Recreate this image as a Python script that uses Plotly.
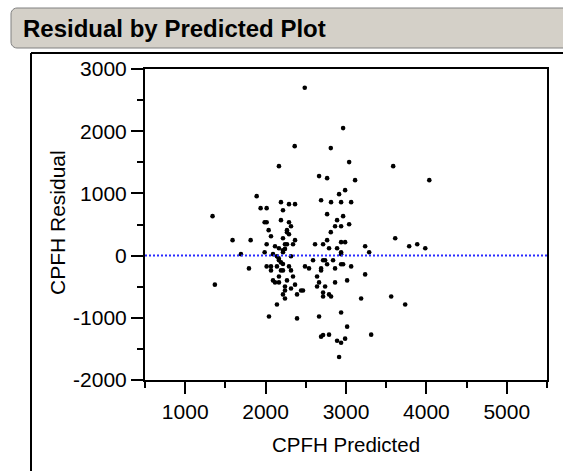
import math
import plotly.graph_objects as go

# ---- data ----
predicted = [
    2487, 2964, 2362, 2811, 2166, 3039, 3587, 2665, 2765, 3113,
    4036, 1889, 2989, 2914, 2690, 2814, 2939, 3064, 2191, 2291,
    2366, 1938, 2013, 2216, 1340, 2765, 2964, 2191, 1988, 2013,
    2291, 2889, 2316, 2864, 2939, 3039, 2038, 2266, 2266, 2811,
    2067, 2291, 2216, 3612, 1589, 1814, 2366, 2765, 2939, 2989,
    2013, 2241, 2266, 2341, 2615, 2715, 3886, 2117, 3238, 3786,
    2166, 2241, 2789, 2889, 3986, 2216, 2216, 1988, 2939, 3288,
    1693, 2092, 2939, 2316, 2141, 2163, 2166, 2191, 2216, 2590,
    2715, 2740, 2839, 2765, 2939, 2964, 3064, 2490, 2540, 2690,
    2690, 2864, 1793, 2013, 2067, 2141, 2291, 2067, 2191, 2216,
    2316, 3238, 2640, 2166, 2341, 2092, 2117, 2166, 2266, 2665,
    2864, 3014, 1369, 2366, 2241, 2316, 2640, 2740, 2241, 2441,
    2465, 2715, 2715, 2789, 2814, 2216, 2391, 2241, 3188, 3562,
    2141, 3736, 2939, 2042, 2391, 2665, 3014, 2690, 2715, 2789,
    3313, 2889, 2939, 2989, 2914,
]
residual = [
    2698, 2050, 1760, 1728, 1438, 1503, 1438, 1278, 1245, 1213,
    1213, 956, 1052, 988, 891, 859, 859, 859, 859, 827,
    827, 763, 763, 730, 634, 666, 634, 570, 537, 537,
    537, 570, 473, 473, 473, 505, 409, 409, 377, 377,
    312, 344, 280, 280, 248, 248, 248, 248, 216, 216,
    183, 183, 183, 183, 183, 183, 183, 151, 151, 151,
    119, 108, 119, 119, 119, 87, 55, 55, 55, 55,
    23, 23, 23, -10, -10, -42, -74, -109, -134, -74,
    -74, -74, -74, -138, -138, -138, -174, -174, -206, -206,
    -238, -206, -206, -174, -174, -174, -174, -238, -238, -238,
    -238, -302, -335, -335, -335, -399, -431, -431, -399, -431,
    -431, -399, -467, -467, -496, -528, -496, -496, -560, -560,
    -560, -595, -658, -624, -658, -624, -624, -689, -689, -658,
    -787, -787, -914, -978, -1010, -978, -1142, -1303, -1276, -1271,
    -1271, -1368, -1400, -1335, -1630,
]
x_ticks = [1000, 2000, 3000, 4000, 5000]
x_tick_labels = ["1000", "2000", "3000", "4000", "5000"]
y_ticks = [-2000, -1000, 0, 1000, 2000, 3000]
y_tick_labels = ["-2000", "-1000", "0", "1000", "2000", "3000"]
x_range = [500, 5500]
y_range = [-2000, 3000]

title_text = "Residual by Predicted Plot"
x_title = "CPFH Predicted"
y_title = "CPFH Residual"

# ---- layout geometry (pixels) ----
W, H = 563, 471
L, R, T, B = 145, 547, 69, 380
PW, PH = R - L, B - T


def px(x):
    return (x - L) / PW


def py(y):
    return (B - y) / PH


FONT = "Liberation Sans, Arial, sans-serif"

fig = go.Figure()
fig.add_trace(go.Scatter(
    x=predicted, y=residual, mode="markers",
    marker=dict(color="black", size=4.6, line=dict(width=0)),
    hoverinfo="skip", showlegend=False,
))

shapes = []
# title bar (rounded on the left)
r = 6
x0, y0, x1, y1 = 11, 8, 600, 48
angles = [k * math.pi / 12 for k in range(7)]
path_pts = [(x1, y0)]
path_pts += [(x0 + r - r * math.sin(t), y0 + r - r * math.cos(t)) for t in angles]
path_pts += [(x0 + r - r * math.cos(t), y1 - r + r * math.sin(t)) for t in angles]
path_pts += [(x1, y1)]
path = "M " + " L ".join(f"{px(a):.5f},{py(b):.5f}" for a, b in path_pts) + " Z"
shapes.append(dict(type="path", xref="paper", yref="paper", path=path,
                   fillcolor="#d4d0c8", line=dict(color="#808080", width=1), layer="below"))
# outer report frame
shapes.append(dict(type="line", xref="paper", yref="paper",
                   x0=px(31), x1=px(600), y0=py(53), y1=py(53),
                   line=dict(color="black", width=2)))
shapes.append(dict(type="line", xref="paper", yref="paper",
                   x0=px(31), x1=px(31), y0=py(53), y1=py(520),
                   line=dict(color="black", width=2)))
# zero reference line
shapes.append(dict(type="line", xref="paper", yref="y",
                   x0=0, x1=1, y0=0, y1=0,
                   line=dict(color="#2a2aff", width=2, dash="2px,2px")))

annotations = [
    dict(text=f"<b>{title_text}</b>", xref="paper", yref="paper",
         x=px(21), y=py(29), xanchor="left", yanchor="middle",
         showarrow=False, font=dict(family=FONT, size=24, color="black")),
    dict(text=x_title, xref="paper", yref="paper",
         x=px(346), y=py(444), xanchor="center", yanchor="middle",
         showarrow=False, font=dict(family=FONT, size=20.5, color="black")),
    dict(text=y_title, xref="paper", yref="paper",
         x=px(57), y=py(223), xanchor="center", yanchor="middle", textangle=-90,
         showarrow=False, font=dict(family=FONT, size=21, color="black")),
]

axis_common = dict(
    showgrid=False, zeroline=False, showline=True, linecolor="black", linewidth=2,
    mirror=True, ticks="outside", ticklen=12, tickwidth=2, tickcolor="black",
    tickfont=dict(family=FONT, size=21, color="black"),
    minor=dict(ticks="outside", ticklen=6, tickwidth=2, tickcolor="black", dtick=500, showgrid=False),
    fixedrange=True,
)

fig.update_layout(
    width=W, height=H, autosize=False,
    margin=dict(l=L, r=W - R, t=T, b=H - B, pad=0),
    paper_bgcolor="white", plot_bgcolor="white",
    xaxis=dict(range=x_range, tickmode="array", tickvals=x_ticks, ticktext=x_tick_labels, **axis_common),
    yaxis=dict(range=y_range, tickmode="array", tickvals=y_ticks, ticktext=y_tick_labels, **axis_common),
    shapes=shapes, annotations=annotations, showlegend=False,
)
fig.update_xaxes(minor=dict(tick0=0))
fig.update_yaxes(minor=dict(tick0=0))

fig.write_html("out.html", config={"displayModeBar": False},
               post_script="document.body.style.margin='0';document.body.style.overflow='hidden';")
